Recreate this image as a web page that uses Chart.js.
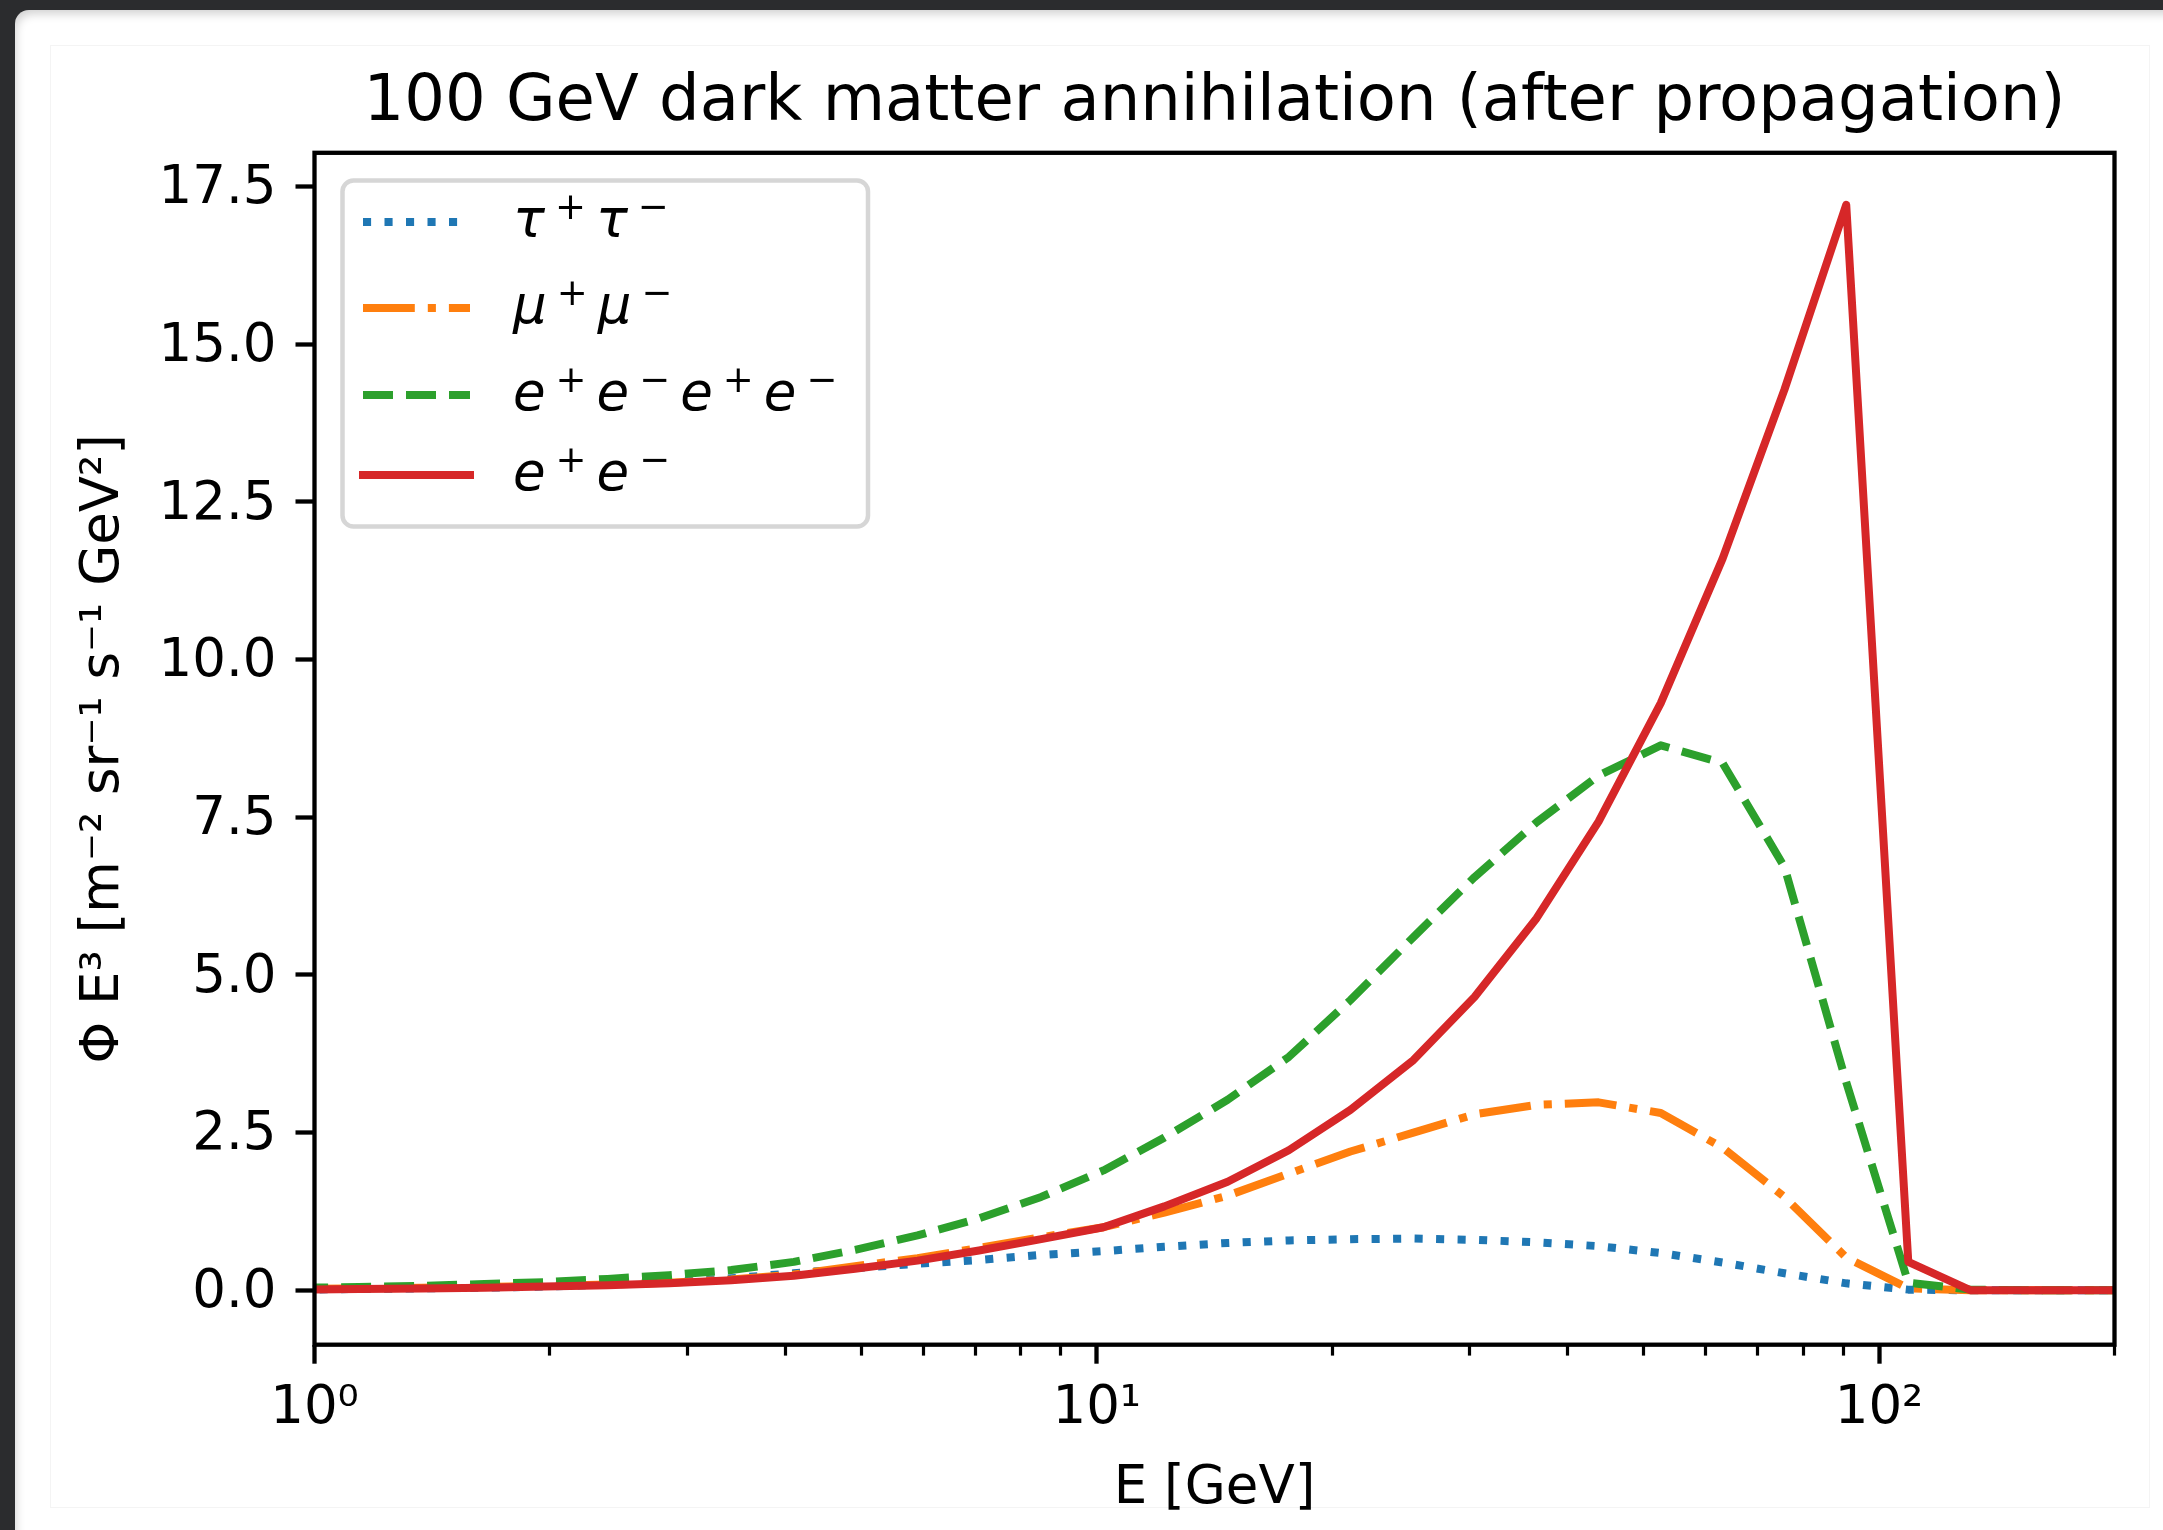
<!DOCTYPE html>
<html>
<head>
<meta charset="utf-8">
<script src="https://cdn.jsdelivr.net/npm/chart.js@4.4.1/dist/chart.umd.min.js"></script>
<style>
    html, body { margin: 0; padding: 0; width: 2163px; height: 1530px; background: #2b2c2e; overflow: hidden; }
    .card { position: absolute; left: 15px; top: 10px; width: 2200px; height: 1600px; background: #fff; border-top-left-radius: 14px; box-shadow: inset 3px 6px 10px -2px rgba(0, 0, 0, 0.18); }
    .figure { position: absolute; left: 50px; top: 45px; width: 2100px; height: 1463px; border: 1px solid #f4f4f4; box-sizing: border-box; }
    canvas { position: absolute; left: 0; top: 0; }
</style>
</head>
<body>
<div class="card"></div>
<div class="figure"></div>
<canvas id="spectrum-line-chart" width="2163" height="1530"></canvas>
<script>
// energy grid [GeV] and Φ E³ values
const energies = [0.953, 1.14, 1.37, 1.65, 1.97, 2.37, 2.84, 3.41, 4.10, 4.91, 5.90, 7.07, 8.49, 10.2, 12.2, 14.7, 17.6, 21.1, 25.4, 30.4, 36.5, 43.8, 52.6, 63.1, 75.7, 90.8, 109, 131, 157, 188, 226]

const tauTau = [0.01, 0.02, 0.03, 0.04, 0.06, 0.09, 0.13, 0.19, 0.27, 0.35, 0.42, 0.48, 0.56, 0.62, 0.69, 0.75, 0.79, 0.81, 0.82, 0.80, 0.76, 0.70, 0.59, 0.44, 0.27, 0.11, 0.01, 0, 0, 0, 0]
const muMu = [0.02, 0.03, 0.04, 0.05, 0.07, 0.09, 0.12, 0.17, 0.25, 0.38, 0.51, 0.67, 0.84, 1.00, 1.23, 1.50, 1.85, 2.20, 2.50, 2.79, 2.94, 2.98, 2.81, 2.26, 1.48, 0.52, 0.03, 0, 0, 0, 0]
const eeee = [0.04, 0.05, 0.07, 0.10, 0.13, 0.18, 0.24, 0.32, 0.45, 0.64, 0.87, 1.14, 1.48, 1.90, 2.42, 3.02, 3.70, 4.60, 5.60, 6.55, 7.42, 8.16, 8.64, 8.36, 6.71, 3.30, 0.12, 0.01, 0, 0, 0]
const ee = [0.01, 0.02, 0.03, 0.04, 0.06, 0.08, 0.11, 0.16, 0.23, 0.34, 0.47, 0.63, 0.81, 1.00, 1.33, 1.72, 2.22, 2.86, 3.65, 4.65, 5.90, 7.43, 9.31, 11.60, 14.28, 17.21, 0.45, 0, 0, 0, 0]

const seriesLabels = ['τ⁺τ⁻', 'μ⁺μ⁻', 'e⁺e⁻e⁺e⁻', 'e⁺e⁻']

const xTickValues = [1, 2, 3, 4, 5, 6, 7, 8, 9, 10, 20, 30, 40, 50, 60, 70, 80, 90, 100, 200]
const xMajorTicks = [1, 10, 100]
const xTickLabels = ['10⁰', '10¹', '10²']
const yTickValues = [0, 2.5, 5, 7.5, 10, 12.5, 15, 17.5]

const FONT = '"DejaVu Sans"'
Chart.defaults.font.family = FONT
Chart.defaults.color = '#000'

const toPoints = values => values.map((y, i) => ({ x: energies[i], y }))

const getDataset = (label, values, color, dash, order) => ({
    label,
    data: toPoints(values),
    borderColor: color,
    backgroundColor: color,
    borderWidth: 8,
    borderDash: dash,
    borderCapStyle: dash.length ? 'butt' : 'square',
    borderJoinStyle: 'round',
    pointRadius: 0,
    tension: 0,
    fill: false,
    clip: 0,
    order
})

// matplotlib style box around the axes
const spinesPlugin = {
    id: 'spines',
    afterDatasetsDraw: chart => {
        const { ctx, chartArea } = chart
        ctx.save()
        ctx.strokeStyle = '#000'
        ctx.lineWidth = 4.3
        ctx.lineJoin = 'miter'
        ctx.setLineDash([])
        ctx.strokeRect(chartArea.left, chartArea.top, chartArea.right - chartArea.left, chartArea.bottom - chartArea.top)
        ctx.restore()
    }
}

const drawMathLabel = (ctx, text, x, y) => {
    for (const ch of text) {
        if (ch === '⁺' || ch === '⁻') {
            const sign = ch === '⁺' ? '+' : '−'
            ctx.font = `37px ${FONT}`
            x += 10
            ctx.fillText(sign, x, y - 18)
            x += ctx.measureText(sign).width + 10
        } else {
            ctx.font = `italic 53px ${FONT}`
            ctx.fillText(ch, x, y)
            x += ctx.measureText(ch).width
        }
    }
}

const legendRowsY = [222, 308, 395, 475]

const frameLegendPlugin = {
    id: 'frameLegend',
    afterDraw: chart => {
        const { ctx } = chart
        ctx.save()
        ctx.beginPath()
        ctx.roundRect(342.5, 180.5, 525.5, 346, 11)
        ctx.fillStyle = 'rgba(255, 255, 255, 0.8)'
        ctx.fill()
        ctx.lineWidth = 4.5
        ctx.strokeStyle = 'rgba(204, 204, 204, 0.8)'
        ctx.stroke()

        chart.data.datasets.forEach((dataset, i) => {
            const y = legendRowsY[i]
            ctx.beginPath()
            ctx.setLineDash(dataset.borderDash)
            ctx.lineCap = dataset.borderCapStyle
            ctx.lineWidth = dataset.borderWidth
            ctx.strokeStyle = dataset.borderColor
            ctx.moveTo(363, y)
            ctx.lineTo(470, y)
            ctx.stroke()

            ctx.setLineDash([])
            ctx.fillStyle = '#000'
            ctx.textBaseline = 'alphabetic'
            ctx.textAlign = 'left'
            drawMathLabel(ctx, dataset.label, 513, y + 15)
        })
        ctx.restore()
    }
}

const spectrumChart = new Chart(document.querySelector('#spectrum-line-chart'), {
    type: 'line',
    data: {
        datasets: [
            getDataset(seriesLabels[0], tauTau, '#1f77b4', [8.1, 13.4], 3),
            getDataset(seriesLabels[1], muMu, '#ff7f0e', [51.8, 13, 8.1, 13], 2),
            getDataset(seriesLabels[2], eeee, '#2ca02c', [30, 13], 1),
            getDataset(seriesLabels[3], ee, '#d62728', [], 0)
        ]
    },
    options: {
        responsive: false,
        animation: false,
        devicePixelRatio: 1,
        layout: {
            padding: { left: 0, right: 48.5, top: 0, bottom: 0 }
        },
        plugins: {
            title: {
                display: true,
                text: '100 GeV dark matter annihilation (after propagation)',
                fullSize: false,
                color: '#000',
                font: { size: 64, weight: 'normal' },
                padding: { top: 64.6, bottom: 11.4 }
            },
            legend: { display: false },
            tooltip: { enabled: false }
        },
        scales: {
            x: {
                type: 'logarithmic',
                position: 'bottom',
                min: 1,
                max: 200,
                afterBuildTicks: scale => {
                    scale.ticks = xTickValues.map(value => ({ value, major: xMajorTicks.includes(value) }))
                },
                afterFit: scale => {
                    scale.height = 185.3
                },
                border: { display: false },
                grid: {
                    drawOnChartArea: false,
                    drawTicks: true,
                    tickLength: 19,
                    tickColor: '#000',
                    tickWidth: ctx => ctx.tick && ctx.tick.major ? 4.3 : 3.2,
                    tickBorderDash: ctx => ctx.tick && ctx.tick.major ? [] : [10.6, 100]
                },
                ticks: {
                    autoSkip: false,
                    maxRotation: 0,
                    minRotation: 0,
                    padding: 14,
                    color: '#000',
                    font: { size: 53 },
                    callback: value => {
                        const index = xMajorTicks.indexOf(value)
                        return index === -1 ? '' : xTickLabels[index]
                    }
                },
                title: {
                    display: true,
                    text: 'E [GeV]',
                    color: '#000',
                    font: { size: 53 },
                    padding: { top: 0, bottom: 9.2 }
                }
            },
            y: {
                type: 'linear',
                position: 'left',
                min: -0.863,
                max: 18.035,
                afterBuildTicks: scale => {
                    scale.ticks = yTickValues.map(value => ({ value }))
                },
                afterFit: scale => {
                    scale.width = 314.5
                },
                border: { display: false },
                grid: {
                    drawOnChartArea: false,
                    drawTicks: true,
                    tickLength: 19,
                    tickColor: '#000',
                    tickWidth: 4.3
                },
                ticks: {
                    padding: 19,
                    labelOffset: 3,
                    color: '#000',
                    font: { size: 53 },
                    callback: value => value.toFixed(1)
                },
                title: {
                    display: true,
                    text: 'Φ E³ [m⁻² sr⁻¹ s⁻¹ GeV²]',
                    color: '#000',
                    font: { size: 53 },
                    padding: { top: 72, bottom: 0 }
                }
            }
        }
    },
    plugins: [spinesPlugin, frameLegendPlugin]
})
</script>
</body>
</html>
